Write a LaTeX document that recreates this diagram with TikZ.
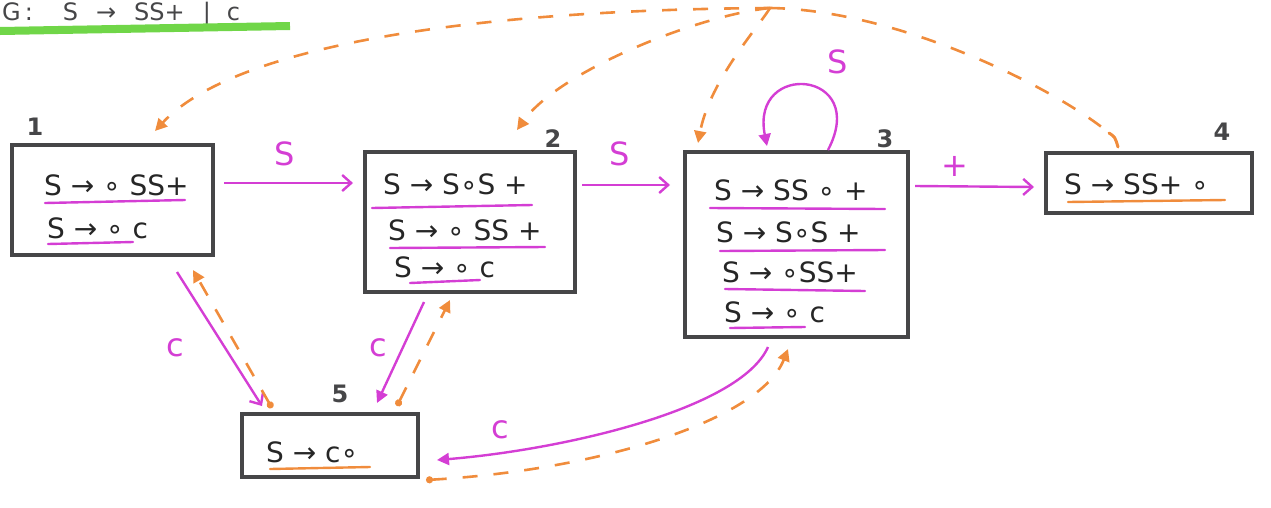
\documentclass[tikz,border=0pt]{standalone}
\usepackage{fontspec}
\setmainfont{DejaVu Sans}
\usetikzlibrary{arrows.meta,calc}
\definecolor{mg}{RGB}{212,62,212}
\definecolor{og}{RGB}{240,140,60}
\definecolor{gr}{RGB}{112,214,72}
\definecolor{bx}{RGB}{70,70,72}
\tikzset{
  statebox/.style={draw=bx,line width=4pt,rectangle,inner sep=0pt},
  itemtxt/.style={anchor=west,inner sep=0pt,font=\fontsize{28}{30}\selectfont,text=black!85},
  numlbl/.style={inner sep=0pt,font=\bfseries\fontsize{24}{26}\selectfont,text=bx},
  trlbl/.style={inner sep=0pt,font=\fontsize{32}{34}\selectfont,text=mg},
  uline/.style={draw=mg,line width=2.4pt,line cap=round},
  oline/.style={draw=og,line width=2.4pt,line cap=round},
  trans/.style={draw=mg,line width=2.4pt},
  open/.style={-{Straight Barb[length=9pt,width=16pt,line width=2.4pt]}},
  filled/.style={-{Triangle[length=12pt,width=12pt]}},
  back/.style={draw=og,line width=2.6pt,dash pattern=on 15pt off 16pt},
  backtip/.style={{Circle[length=7pt]}-{Triangle[length=12pt,width=12pt]}},
  toptip/.style={-{Triangle[length=12pt,width=12pt]}},
}
\begin{document}
\begin{tikzpicture}[x=1pt,y=-1pt]
\useasboundingbox (0,0) rectangle (1271,507);
% title
\node[anchor=base west,inner sep=0pt,font=\fontsize{24}{26}\selectfont,text=bx] (title) at (2,20) {G\hspace{4pt}:\hspace{30pt}S\hspace{18pt}→\hspace{18pt}SS+\hspace{18pt}|\hspace{16pt}c};
\draw[draw=gr,line width=8pt] (0,31) -- (290,26);
% boxes
\node[statebox,minimum width=201pt,minimum height=110pt] (b1) at (112.5,200) {};
\node[statebox,minimum width=210pt,minimum height=140pt] (b2) at (470,222) {};
\node[statebox,minimum width=223pt,minimum height=185pt] (b3) at (796.5,244.5) {};
\node[statebox,minimum width=206pt,minimum height=60pt] (b4) at (1149,183) {};
\node[statebox,minimum width=176pt,minimum height=63pt] (b5) at (330,445.5) {};
% numbers
\node[numlbl] (n1) at (35,127) {1};
\node[numlbl] (n2) at (553,139) {2};
\node[numlbl] (n3) at (885,139) {3};
\node[numlbl] (n4) at (1222,132) {4};
\node[numlbl] (n5) at (340,394) {5};
% items box 1
\node[itemtxt] (i11) at (44,185) {S → ∘ SS+};
\node[itemtxt] (i12) at (47,228) {S → ∘ c};
\draw[uline] (45,203) -- (185,200);
\draw[uline] (48,244) -- (133,242);
% items box 2
\node[itemtxt] (i21) at (383,184) {S → S∘S +};
\node[itemtxt] (i22) at (388,230) {S → ∘ SS +};
\node[itemtxt] (i23) at (394,267) {S → ∘ c};
\draw[uline] (372,208) -- (532,205);
\draw[uline] (390,248) -- (545,247);
\draw[uline] (410,283) -- (480,280);
% items box 3
\node[itemtxt] (i31) at (714,190) {S → SS ∘ +};
\node[itemtxt] (i32) at (716,232) {S → S∘S +};
\node[itemtxt] (i33) at (722,272) {S → ∘SS+};
\node[itemtxt] (i34) at (724,312) {S → ∘ c};
\draw[uline] (710,208) -- (885,209);
\draw[uline] (720,251) -- (885,250);
\draw[uline] (725,289) -- (865,291);
\draw[uline] (730,328) -- (805,327);
% item box 4
\node[itemtxt] (i41) at (1064,184) {S → SS+ ∘};
\draw[oline] (1068,202) -- (1225,200);
% item box 5
\node[itemtxt] (i51) at (266,452) {S → c∘};
\draw[oline] (270,469) -- (370,467);
% transitions
\draw[trans,open] ([shift={(9,-17)}]b1.east) -- ([shift={(-10,-39)}]b2.west);
\node[trlbl] (l12) at (285,154) {S};
\draw[trans,open] ([shift={(5,-37)}]b2.east) -- ([shift={(-13,-59.5)}]b3.west);
\node[trlbl] (l23) at (620,154) {S};
\draw[trans,open] ([shift={(5,-58.5)}]b3.east) -- ([shift={(-10,4)}]b4.west);
\node[trlbl] (l34) at (955,166) {+};
\draw[trans,filled] ([shift={(31.5,0)}]b3.north) .. controls (870,70) and (750,60) .. ([shift={(-29.5,-4)}]b3.north);
\node[trlbl] (l33) at (838,62) {S};
\draw[trans,open] ([shift={(64.5,15)}]b1.south) -- ([shift={(-68,-6)}]b5.north);
\node[trlbl] (l15) at (175,348) {c};
\draw[trans,filled] ([shift={(-46,8)}]b2.south) -- ([shift={(47,-9)}]b5.north);
\node[trlbl] (l25) at (378,348) {c};
\draw[trans,filled] ([shift={(-28.5,8)}]b3.south) .. controls (740,410) and (560,450) .. ([shift={(17,14.5)}]b5.east);
\node[trlbl] (l35) at (500,430) {c};
% orange back links
\draw[back,backtip] ([shift={(-58,-4)}]b5.north) -- ([shift={(80.5,13)}]b1.south);
\draw[back,backtip] ([shift={(67,-6)}]b5.north) -- ([shift={(-20,6)}]b2.south);
\draw[back,backtip] ([shift={(6,1)}]b5.south east) .. controls (600,470) and (760,420) .. ([shift={(-8.5,10)}]b3.south);
\coordinate (src) at (770,8);
\draw[back,toptip] (src) .. controls (450,10) and (230,50) .. ([shift={(42.5,-12)}]b1.north);
\draw[back,toptip] (src) .. controls (700,15) and (560,70) .. ([shift={(47,-20)}]b2.north);
\draw[back,toptip] (src) .. controls (760,25) and (710,80) .. ([shift={(-98.5,-7)}]b3.north);
\draw[back] (src) .. controls (900,10) and (1060,90) .. ([shift={(-35,-14)}]b4.north);
\draw[draw=og,line width=3pt,line cap=round] ([shift={(-40,-18)}]b4.north) .. controls ([shift={(-34,-14)}]b4.north) .. ([shift={(-31,-4)}]b4.north);
\end{tikzpicture}
\end{document}
